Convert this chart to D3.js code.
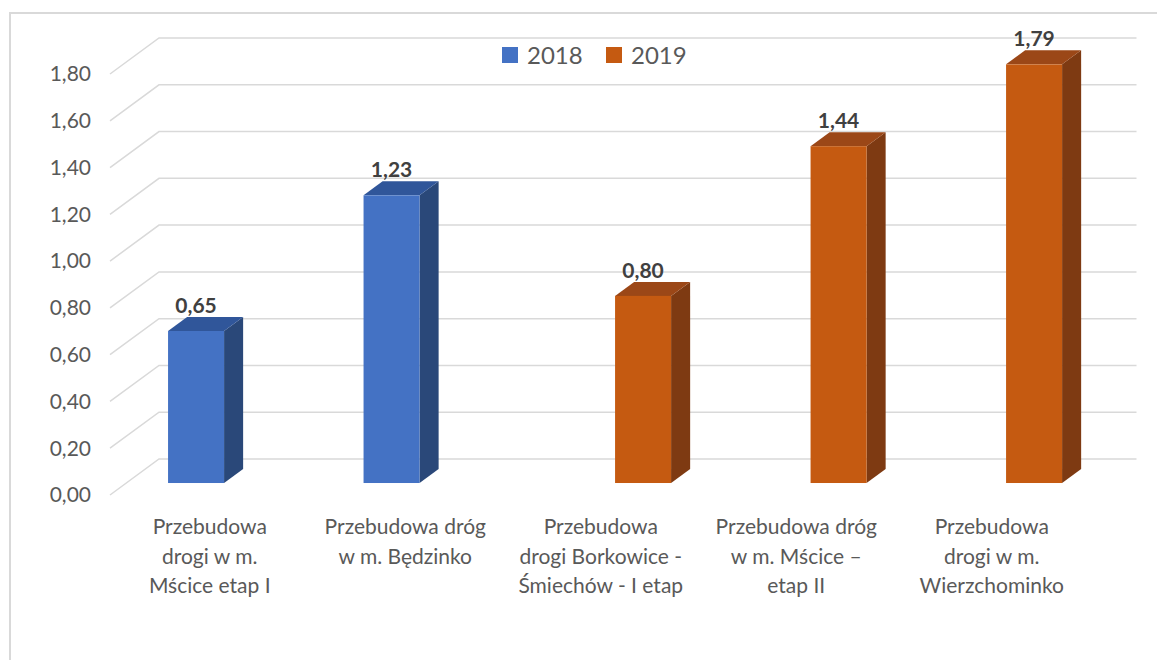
<!DOCTYPE html>
<html>
<head>
<meta charset="utf-8">
<script src="https://cdn.jsdelivr.net/npm/d3@7"></script>
<style>
    body { margin: 0; background: #fff; }
    text { font-family: Lato, 'DejaVu Sans', sans-serif; }
</style>
</head>
<body>
<svg id="chart"></svg>
<script>
//BAR CHART (3D) OF ROAD INVESTMENTS 2018 / 2019

//data
var categories = [
    ['Przebudowa', 'drogi w m.', 'Mścice etap I'],
    ['Przebudowa dróg', 'w m. Będzinko'],
    ['Przebudowa', 'drogi Borkowice -', 'Śmiechów - I etap'],
    ['Przebudowa dróg', 'w m. Mścice –', 'etap II'],
    ['Przebudowa', 'drogi w m.', 'Wierzchominko']
];
var seriesNames = ['2018', '2019'];
var values2018 = [0.65, 1.23, null, null, null];
var values2019 = [null, null, 0.80, 1.44, 1.79];
var yTicks = [0, 0.2, 0.4, 0.6, 0.8, 1.0, 1.2, 1.4, 1.6, 1.8];

function chart() {
    //chart parameters
    var svg = d3.select('#chart')
        .attr('width', 1157)
        .attr('height', 660);

    //colors per series: front, top, side
    var colors = {
        '2018': {front: '#4472c4', top: '#30569a', side: '#2a4879'},
        '2019': {front: '#c55a11', top: '#9b4717', side: '#7e3a12'}
    };

    //depth vector of the 3d floor
    var depth = {dx: 49, dy: -36},
        zFront = 0.333,
        zBack = 0.722;

    //define scales
    var xScale = d3.scaleBand()
        .domain(d3.range(categories.length))
        .range([110, 1087.5]);

    var sScale = d3.scaleBand()
        .domain(seriesNames)
        .range([0, xScale.bandwidth()])
        .paddingInner(0)
        .paddingOuter(0.745);

    var yScale = d3.scaleLinear()
        .domain([0, 1.8])
        .range([495, 74]);

    var fmt = v => d3.format('.2f')(v).replace('.', ',');

    //outer border
    svg.append('path')
        .attr('d', 'M10,670 L10,13 L1170,13')
        .attr('fill', 'none')
        .attr('stroke', '#d9d9d9')
        .attr('stroke-width', 2);

    //gridlines (side wall diagonal + back wall)
    var x0 = xScale.range()[0],
        x1 = xScale.range()[1];

    var grid = svg.append('g').attr('class', 'grid');
    grid.selectAll('path').data(yTicks)
        .enter().append('path')
            .attr('d', d => 'M' + x0 + ',' + yScale(d)
                + ' L' + (x0 + depth.dx) + ',' + (yScale(d) + depth.dy)
                + ' L' + (x1 + depth.dx) + ',' + (yScale(d) + depth.dy))
            .attr('fill', 'none')
            .attr('stroke', '#d9d9d9')
            .attr('stroke-width', 1.5);

    //y axis labels
    svg.append('g').attr('class', 'axis-y')
        .selectAll('text').data(yTicks)
        .enter().append('text')
            .attr('x', 91)
            .attr('y', d => yScale(d))
            .attr('dy', '0.35em')
            .attr('text-anchor', 'end')
            .attr('font-size', 21)
            .attr('fill', '#595959')
            .text(fmt);

    //bar data
    var bars = [];
    categories.forEach((c, i) => {
        if (values2018[i] != null) bars.push({i: i, s: '2018', v: values2018[i]});
        if (values2019[i] != null) bars.push({i: i, s: '2019', v: values2019[i]});
    });

    //draw bars
    var fx = depth.dx * zFront, fy = depth.dy * zFront,
        bx = depth.dx * zBack, by = depth.dy * zBack,
        w = sScale.bandwidth();

    var bar = svg.selectAll('.bar').data(bars)
        .enter().append('g')
            .attr('class', 'bar');

    //side face
    bar.append('path')
        .attr('d', d => {
            var l = xScale(d.i) + sScale(d.s) + w,
                t = yScale(d.v), b = yScale(0);
            return 'M' + (l + fx) + ',' + (b + fy) + ' L' + (l + bx) + ',' + (b + by)
                + ' L' + (l + bx) + ',' + (t + by) + ' L' + (l + fx) + ',' + (t + fy) + 'Z';
        })
        .attr('fill', d => colors[d.s].side);

    //top face
    bar.append('path')
        .attr('d', d => {
            var l = xScale(d.i) + sScale(d.s),
                t = yScale(d.v);
            return 'M' + (l + fx) + ',' + (t + fy) + ' L' + (l + bx) + ',' + (t + by)
                + ' L' + (l + w + bx) + ',' + (t + by) + ' L' + (l + w + fx) + ',' + (t + fy) + 'Z';
        })
        .attr('fill', d => colors[d.s].top);

    //front face
    bar.append('rect')
        .attr('x', d => xScale(d.i) + sScale(d.s) + fx)
        .attr('y', d => yScale(d.v) + fy)
        .attr('width', w)
        .attr('height', d => yScale(0) - yScale(d.v))
        .attr('fill', d => colors[d.s].front);

    //data labels
    bar.append('text')
        .attr('x', d => xScale(d.i) + sScale(d.s) + fx + w / 2)
        .attr('y', d => yScale(d.v) + by - 4)
        .attr('text-anchor', 'middle')
        .attr('font-size', 21)
        .attr('font-weight', 'bold')
        .attr('fill', '#404040')
        .text(d => fmt(d.v));

    //category labels
    var cat = svg.append('g').attr('class', 'axis-x')
        .selectAll('text').data(categories)
        .enter().append('text')
            .attr('text-anchor', 'middle')
            .attr('font-size', 21)
            .attr('fill', '#595959');

    cat.selectAll('tspan').data((d, i) => d.map(t => ({t: t, i: i})))
        .enter().append('tspan')
            .attr('x', d => xScale(d.i) + xScale.bandwidth() / 2 + 2)
            .attr('y', (d, j) => 534 + j * 29.5)
            .text(d => d.t);

    //legend
    var legend = svg.append('g').attr('class', 'legend')
        .selectAll('g').data(seriesNames)
        .enter().append('g')
            .attr('transform', (d, i) => 'translate(' + (502 + i * 104) + ',47)');

    legend.append('rect')
        .attr('width', 16)
        .attr('height', 16)
        .attr('fill', d => colors[d].front);

    legend.append('text')
        .attr('x', 25)
        .attr('y', 8)
        .attr('dy', '0.36em')
        .attr('font-size', 24)
        .attr('fill', '#595959')
        .text(d => d);
}

chart();
</script>
</body>
</html>
